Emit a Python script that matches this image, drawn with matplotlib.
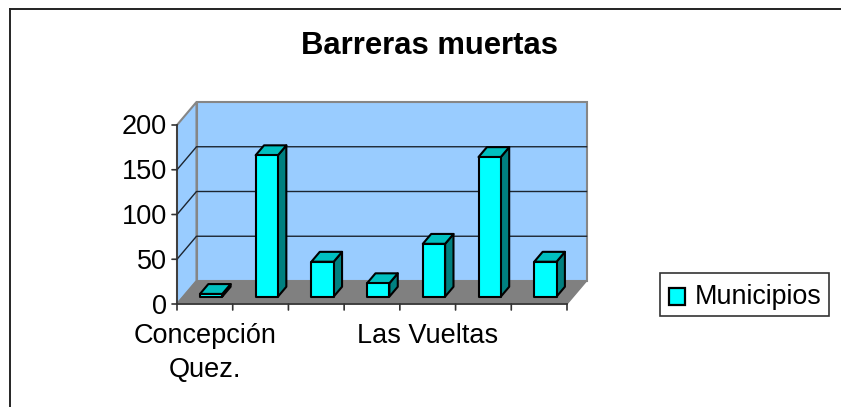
#!/usr/bin/env python3
import matplotlib
matplotlib.use('Agg')
import matplotlib.pyplot as plt
from matplotlib.patches import Polygon, Rectangle

# data
categories = ['Concepción\nQuez.', '', '', '', 'Las Vueltas', '', '']
values = [3, 158, 39, 15, 59, 156, 39]
yticks = [0, 50, 100, 150, 200]
series_name = 'Municipios'

W, H = 841, 407
plt.rcParams['font.family'] = ['Liberation Sans', 'DejaVu Sans']

fig = plt.figure(figsize=(W / 100, H / 100), dpi=100)
ax = fig.add_axes([177 / W, (H - 304) / H, 390 / W, 179 / H])
ax.set_xlim(0, len(values))
ax.set_ylim(0, 200)
ax.axis('off')

# oblique depth, d goes from 0 (front) to 1 (back wall)
depth_x = 0.35
depth_y = 25.7


def pr(x, v, d=0.0):
    return (x + d * depth_x, v + d * depth_y)


def poly(pts, **kw):
    kw.setdefault('clip_on', False)
    p = Polygon([pr(*q) for q in pts], closed=True, **kw)
    ax.add_patch(p)


n = len(values)
wall = '#99ccff'
wall_edge = '#868686'

# walls and floor
poly([(0, 0, 1), (n, 0, 1), (n, 200, 1), (0, 200, 1)], fc=wall, ec=wall_edge, lw=1.5, zorder=1)
poly([(0, 0, 0), (0, 0, 1), (0, 200, 1), (0, 200, 0)], fc=wall, ec=wall_edge, lw=1.5, zorder=1)
poly([(0, 0, 0), (n, 0, 0), (n, 0, 1), (0, 0, 1)], fc='#808080', ec='#808080', lw=1, zorder=2)

# gridlines, side wall then back wall
for t in yticks[1:-1]:
    ax.plot(*zip(pr(0, t, 0), pr(0, t, 1), pr(n, t, 1)), color='#1c2530', lw=1, clip_on=False, zorder=3)

# front axes and ticks
ax.plot([0, 0], [0, 200], color='#333333', lw=1.2, clip_on=False, zorder=4)
ax.plot([0, n], [0, 0], color='#333333', lw=1.2, clip_on=False, zorder=4)
for t in yticks:
    ax.annotate('', xy=(0, t), xytext=(-5, 0), textcoords='offset pixels', xycoords='data',
                arrowprops=dict(arrowstyle='-', color='#333333', lw=1.2, shrinkA=0, shrinkB=0))
    ax.annotate(str(t), xy=(0, t), xytext=(-10, -2.5), textcoords='offset pixels', ha='right', va='center',
                fontsize=19.5, color='black')
for i in range(n + 1):
    ax.annotate('', xy=(i, 0), xytext=(0, -6), textcoords='offset pixels', xycoords='data',
                arrowprops=dict(arrowstyle='-', color='#333333', lw=1.2, shrinkA=0, shrinkB=0))
for i, lab in enumerate(categories):
    if lab:
        ax.annotate(lab, xy=(i + 0.5, 0), xytext=(0, -19), textcoords='offset pixels', ha='center', va='top',
                    fontsize=19.5, color='black', linespacing=1.42)

# bars
bar_w = 0.40
d0, d1 = 0.32, 0.75
for i, v in enumerate(values):
    x0 = i + 0.5 - bar_w / 2
    x1 = x0 + bar_w
    kw = dict(ec='black', lw=1.5, joinstyle='round', zorder=10 + i)
    poly([(x1, 0, d0), (x1, 0, d1), (x1, v, d1), (x1, v, d0)], fc='#008080', **kw)
    poly([(x0, v, d0), (x1, v, d0), (x1, v, d1), (x0, v, d1)], fc='#00c0c0', **kw)
    poly([(x0, 0, d0), (x1, 0, d0), (x1, v, d0), (x0, v, d0)], fc='#00ffff', **kw)

fig.text(429.5 / W, 1 - 46 / H, 'Barreras muertas', ha='center', va='center', fontsize=22.3, fontweight='bold')

# outer frame, only left and top edges show
fig.add_artist(plt.Line2D([9.5 / W, 9.5 / W], [0, 1 - 9 / H], color='black', lw=1.2))
fig.add_artist(plt.Line2D([9.5 / W, 1], [1 - 9 / H, 1 - 9 / H], color='#222222', lw=1.4))

# legend
fig.add_artist(Rectangle((659.5 / W, 1 - 316 / H), 169.5 / W, 43 / H, transform=fig.transFigure, fc='white', ec='#333333', lw=1.2))
fig.add_artist(Rectangle((669 / W, 1 - 305 / H), 16 / W, 17 / H, transform=fig.transFigure, fc='#00ffff', ec='black', lw=1.6))
fig.text(695 / W, 1 - 297 / H, series_name, ha='left', va='center', fontsize=19.4)

fig.savefig('out.png', dpi=100)
